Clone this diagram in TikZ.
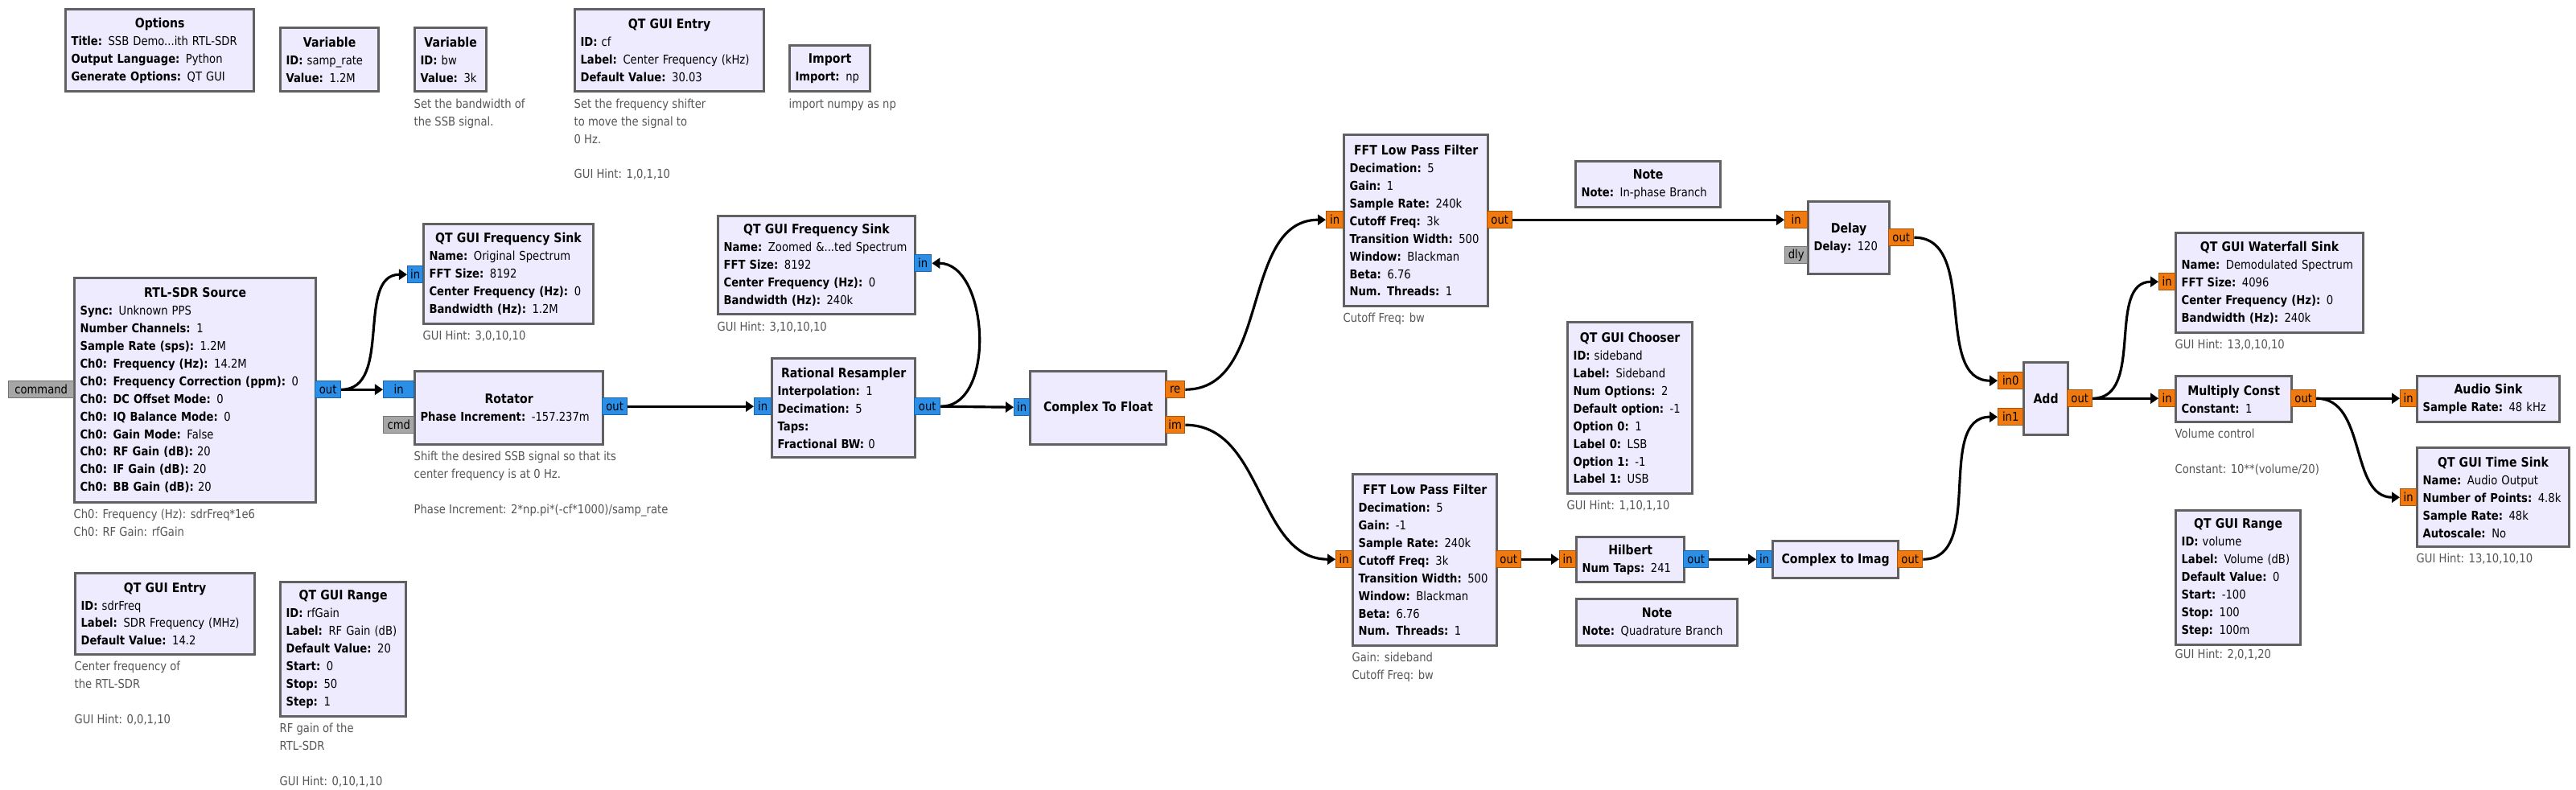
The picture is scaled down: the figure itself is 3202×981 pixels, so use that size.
\documentclass[tikz,border=0pt]{standalone}
\usepackage{fontspec}
\setmainfont{DejaVu Sans}[FakeStretch=0.87]
\usetikzlibrary{arrows.meta}

\definecolor{blockfill}{HTML}{EEEBFF}
\definecolor{blockline}{HTML}{616161}
\definecolor{cplx}{HTML}{2B8FE8}
\definecolor{flt}{HTML}{F07A10}
\definecolor{msg}{HTML}{A6A6A6}
\definecolor{note}{HTML}{555555}

\newcommand{\rowfont}{\fontsize{4.3}{6.24}\selectfont}
\newcommand{\ttl}[1]{\centering{\fontsize{4.6}{6.24}\selectfont\textbf{#1}}\par\raggedright}

\begin{document}
\begin{tikzpicture}[
    x=0.01cm, y=-0.01cm,
    blk/.style={rectangle, draw=blockline, line width=0.9pt, fill=blockfill, anchor=north west, inner xsep=0.07cm, inner ysep=0pt, font=\rowfont},
    port/.style={rectangle, draw, line width=0.4pt, anchor=north west, inner sep=0pt, minimum height=0.21cm, font=\rowfont},
    cport/.style={port, fill=cplx, draw=cplx!70!black},
    fport/.style={port, fill=flt, draw=flt!70!black},
    mport/.style={port, fill=msg, draw=msg!70!black},
    comment/.style={anchor=north west, inner sep=0pt, align=left, text=note, font=\rowfont},
    wire/.style={line width=0.9pt, -{Triangle[length=0.1cm, width=0.13cm]}}
]
\useasboundingbox (0,0) rectangle (3202,981);
% Variables and options
\node[blk, text width=2.20cm, minimum height=1.02cm] (options) at (80,10) {\ttl{Options}\textbf{Title:} SSB Demo...ith RTL-SDR\\\textbf{Output Language:} Python\\\textbf{Generate Options:} QT GUI};
\node[blk, text width=1.08cm, minimum height=0.79cm] (samp_rate) at (347,33) {\ttl{Variable}\textbf{ID:} samp\_rate\\\textbf{Value:} 1.2M};
\node[blk, text width=0.75cm, minimum height=0.79cm] (bw_var) at (514,33) {\ttl{Variable}\textbf{ID:} bw\\\textbf{Value:} 3k};
\node[blk, text width=2.21cm, minimum height=1.02cm] (cf_entry) at (713,10) {\ttl{QT GUI Entry}\textbf{ID:} cf\\\textbf{Label:} Center Frequency (kHz)\\\textbf{Default Value:} 30.03};
\node[blk, text width=0.86cm, minimum height=0.57cm] (import_np) at (980,55) {\ttl{Import}\textbf{Import:} np};
\node[blk, text width=2.09cm, minimum height=1.01cm] (sdr_entry) at (92,711) {\ttl{QT GUI Entry}\textbf{ID:} sdrFreq\\\textbf{Label:} SDR Frequency (MHz)\\\textbf{Default Value:} 14.2};
\node[blk, text width=1.42cm, minimum height=1.67cm] (rf_range) at (347,722) {\ttl{QT GUI Range}\textbf{ID:} rfGain\\\textbf{Label:} RF Gain (dB)\\\textbf{Default Value:} 20\\\textbf{Start:} 0\\\textbf{Stop:} 50\\\textbf{Step:} 1};
\node[blk, text width=1.41cm, minimum height=2.13cm] (chooser) at (1947,399) {\ttl{QT GUI Chooser}\textbf{ID:} sideband\\\textbf{Label:} Sideband\\\textbf{Num Options:} 2\\\textbf{Default option:} -1\\\textbf{Option 0:} 1\\\textbf{Label 0:} LSB\\\textbf{Option 1:} -1\\\textbf{Label 1:} USB};
\node[blk, text width=1.41cm, minimum height=1.67cm] (vol_range) at (2703,633) {\ttl{QT GUI Range}\textbf{ID:} volume\\\textbf{Label:} Volume (dB)\\\textbf{Default Value:} 0\\\textbf{Start:} -100\\\textbf{Stop:} 100\\\textbf{Step:} 100m};
\node[blk, text width=1.66cm, minimum height=0.57cm] (note_i) at (1957,199) {\ttl{Note}\textbf{Note:} In-phase Branch};
\node[blk, text width=1.86cm, minimum height=0.58cm] (note_q) at (1958,743) {\ttl{Note}\textbf{Note:} Quadrature Branch};
% Signal blocks
\node[blk, text width=2.86cm, minimum height=2.79cm] (rtl_src) at (91,344) {\ttl{RTL-SDR Source}\textbf{Sync:} Unknown PPS\\\textbf{Number Channels:} 1\\\textbf{Sample Rate (sps):} 1.2M\\\textbf{Ch0: Frequency (Hz):} 14.2M\\\textbf{Ch0: Frequency Correction (ppm):} 0\\\textbf{Ch0: DC Offset Mode:} 0\\\textbf{Ch0: IQ Balance Mode:} 0\\\textbf{Ch0: Gain Mode:} False\\\textbf{Ch0: RF Gain (dB):} 20\\\textbf{Ch0: IF Gain (dB):} 20\\\textbf{Ch0: BB Gain (dB):} 20};
\node[blk, text width=1.97cm, minimum height=1.24cm] (sink_orig) at (525,277) {\ttl{QT GUI Frequency Sink}\textbf{Name:} Original Spectrum\\\textbf{FFT Size:} 8192\\\textbf{Center Frequency (Hz):} 0\\\textbf{Bandwidth (Hz):} 1.2M};
\node[blk, text width=2.31cm, minimum height=1.22cm] (sink_zoom) at (891,267) {\ttl{QT GUI Frequency Sink}\textbf{Name:} Zoomed \&...ted Spectrum\\\textbf{FFT Size:} 8192\\\textbf{Center Frequency (Hz):} 0\\\textbf{Bandwidth (Hz):} 240k};
\node[blk, text width=2.20cm, minimum height=0.91cm] (rotator) at (514,460) {\ttl{Rotator}\textbf{Phase Increment:} -157.237m};
\node[blk, text width=1.64cm, minimum height=1.23cm] (resampler) at (958,444) {\ttl{Rational Resampler}\textbf{Interpolation:} 1\\\textbf{Decimation:} 5\\\textbf{Taps:}\\\textbf{Fractional BW:} 0};
\node[blk, text width=1.55cm, minimum height=0.91cm] (c2f) at (1279,460) {\ttl{Complex To Float}};
\node[blk, text width=1.65cm, minimum height=2.13cm] (lpf_i) at (1669,166) {\ttl{FFT Low Pass Filter}\textbf{Decimation:} 5\\\textbf{Gain:} 1\\\textbf{Sample Rate:} 240k\\\textbf{Cutoff Freq:} 3k\\\textbf{Transition Width:} 500\\\textbf{Window:} Blackman\\\textbf{Beta:} 6.76\\\textbf{Num. Threads:} 1};
\node[blk, text width=1.65cm, minimum height=2.13cm] (lpf_q) at (1680,588) {\ttl{FFT Low Pass Filter}\textbf{Decimation:} 5\\\textbf{Gain:} -1\\\textbf{Sample Rate:} 240k\\\textbf{Cutoff Freq:} 3k\\\textbf{Transition Width:} 500\\\textbf{Window:} Blackman\\\textbf{Beta:} 6.76\\\textbf{Num. Threads:} 1};
\node[blk, text width=0.87cm, minimum height=0.90cm] (delay) at (2246,249) {\ttl{Delay}\textbf{Delay:} 120};
\node[blk, text width=1.20cm, minimum height=0.56cm] (hilbert) at (1958,666) {\ttl{Hilbert}\textbf{Num Taps:} 241};
\node[blk, text width=1.42cm, minimum height=0.46cm] (c2imag) at (2202,671) {\ttl{Complex to Imag}};
\node[blk, text width=0.41cm, minimum height=0.90cm] (add) at (2514,449) {\ttl{Add}};
\node[blk, text width=2.19cm, minimum height=1.24cm] (waterfall) at (2703,288) {\ttl{QT GUI Waterfall Sink}\textbf{Name:} Demodulated Spectrum\\\textbf{FFT Size:} 4096\\\textbf{Center Frequency (Hz):} 0\\\textbf{Bandwidth (Hz):} 240k};
\node[blk, text width=1.30cm, minimum height=0.57cm] (mult) at (2703,466) {\ttl{Multiply Const}\textbf{Constant:} 1};
\node[blk, text width=1.63cm, minimum height=0.57cm] (audio) at (3003,466) {\ttl{Audio Sink}\textbf{Sample Rate:} 48 kHz};
\node[blk, text width=1.75cm, minimum height=1.23cm] (time_sink) at (3003,555) {\ttl{QT GUI Time Sink}\textbf{Name:} Audio Output\\\textbf{Number of Points:} 4.8k\\\textbf{Sample Rate:} 48k\\\textbf{Autoscale:} No};
% Ports
\node[mport, minimum width=0.81cm] (rtl_cmd) at (10,473) {command};
\node[cport, minimum width=0.32cm] (rtl_out) at (391,473) {out};
\node[cport, minimum width=0.38cm] (rot_in) at (476,473) {in};
\node[mport, minimum width=0.38cm] (rot_cmd) at (476,517) {cmd};
\node[cport, minimum width=0.31cm] (rot_out) at (748,494) {out};
\node[cport, minimum width=0.19cm] (orig_in) at (506,330) {in};
\node[cport, minimum width=0.21cm] (zoom_in) at (1136,316) {in};
\node[cport, minimum width=0.21cm] (rs_in) at (937,494) {in};
\node[cport, minimum width=0.32cm] (rs_out) at (1136,494) {out};
\node[cport, minimum width=0.19cm] (c2f_in) at (1260,495) {in};
\node[fport, minimum width=0.24cm] (c2f_re) at (1448,473) {re};
\node[fport, minimum width=0.24cm] (c2f_im) at (1448,517) {im};
\node[fport, minimum width=0.21cm] (lpfi_in) at (1648,262) {in};
\node[fport, minimum width=0.31cm] (lpfi_out) at (1848,262) {out};
\node[fport, minimum width=0.28cm] (delay_in) at (2218,262) {in};
\node[mport, minimum width=0.28cm] (delay_dly) at (2218,306) {dly};
\node[fport, minimum width=0.31cm] (delay_out) at (2347,284) {out};
\node[fport, minimum width=0.20cm] (lpfq_in) at (1660,684) {in};
\node[fport, minimum width=0.31cm] (lpfq_out) at (1859,684) {out};
\node[fport, minimum width=0.20cm] (hil_in) at (1938,684) {in};
\node[cport, minimum width=0.31cm] (hil_out) at (2092,684) {out};
\node[cport, minimum width=0.19cm] (ci_in) at (2183,684) {in};
\node[fport, minimum width=0.31cm] (ci_out) at (2358,684) {out};
\node[fport, minimum width=0.31cm] (add_in0) at (2483,462) {in0};
\node[fport, minimum width=0.31cm] (add_in1) at (2483,507) {in1};
\node[fport, minimum width=0.31cm] (add_out) at (2569,484) {out};
\node[fport, minimum width=0.20cm] (wf_in) at (2683,339) {in};
\node[fport, minimum width=0.20cm] (mult_in) at (2683,484) {in};
\node[fport, minimum width=0.31cm] (mult_out) at (2847,484) {out};
\node[fport, minimum width=0.20cm] (audio_in) at (2983,484) {in};
\node[fport, minimum width=0.20cm] (ts_in) at (2983,607) {in};
% Comments
\node[comment] (bw_note) at (514,122) {Set the bandwidth of\\the SSB signal.};
\node[comment] (cf_note) at (713,122) {Set the frequency shifter\\to move the signal to\\0 Hz.\\[6.24pt]GUI Hint: 1,0,1,10};
\node[comment] (import_note) at (980,122) {import numpy as np};
\node[comment] (orig_note) at (525,410) {GUI Hint: 3,0,10,10};
\node[comment] (zoom_note) at (891,399) {GUI Hint: 3,10,10,10};
\node[comment] (rtl_note) at (91,632) {Ch0: Frequency (Hz): sdrFreq*1e6\\Ch0: RF Gain: rfGain};
\node[comment] (rot_note) at (514,560) {Shift the desired SSB signal so that its\\center frequency is at 0 Hz.\\[6.24pt]Phase Increment: 2*np.pi*(-cf*1000)/samp\_rate};
\node[comment] (lpfi_note) at (1669,388) {Cutoff Freq: bw};
\node[comment] (chooser_note) at (1947,621) {GUI Hint: 1,10,1,10};
\node[comment] (lpfq_note) at (1680,810) {Gain: sideband\\Cutoff Freq: bw};
\node[comment] (wf_note) at (2703,421) {GUI Hint: 13,0,10,10};
\node[comment] (mult_note) at (2703,532) {Volume control\\[6.24pt]Constant: 10**(volume/20)};
\node[comment] (ts_note) at (3003,687) {GUI Hint: 13,10,10,10};
\node[comment] (vol_note) at (2703,806) {GUI Hint: 2,0,1,20};
\node[comment] (sdr_note) at (92,821) {Center frequency of\\the RTL-SDR\\[6.24pt]GUI Hint: 0,0,1,10};
\node[comment] (rf_note) at (347,898) {RF gain of the\\RTL-SDR\\[6.24pt]GUI Hint: 0,10,1,10};
% Connections
\draw[wire] (rtl_out.east) -- (rot_in.west);
\draw[wire] (rtl_out.east) to[out=0, in=180] (orig_in.west);
\draw[wire] (rot_out.east) -- (rs_in.west);
\draw[wire] (rs_out.east) -- (c2f_in.west);
\draw[wire] (rs_out.east) .. controls +(70,0) and +(70,0) .. (zoom_in.east);
\draw[wire] (c2f_re.east) to[out=0, in=180] (lpfi_in.west);
\draw[wire] (c2f_im.east) to[out=0, in=180] (lpfq_in.west);
\draw[wire] (lpfi_out.east) -- (delay_in.west);
\draw[wire] (lpfq_out.east) -- (hil_in.west);
\draw[wire] (hil_out.east) -- (ci_in.west);
\draw[wire] (delay_out.east) to[out=0, in=180] (add_in0.west);
\draw[wire] (ci_out.east) to[out=0, in=180] (add_in1.west);
\draw[wire] (add_out.east) -- (mult_in.west);
\draw[wire] (add_out.east) to[out=0, in=180] (wf_in.west);
\draw[wire] (mult_out.east) -- (audio_in.west);
\draw[wire] (mult_out.east) to[out=0, in=180] (ts_in.west);
\end{tikzpicture}
\end{document}
